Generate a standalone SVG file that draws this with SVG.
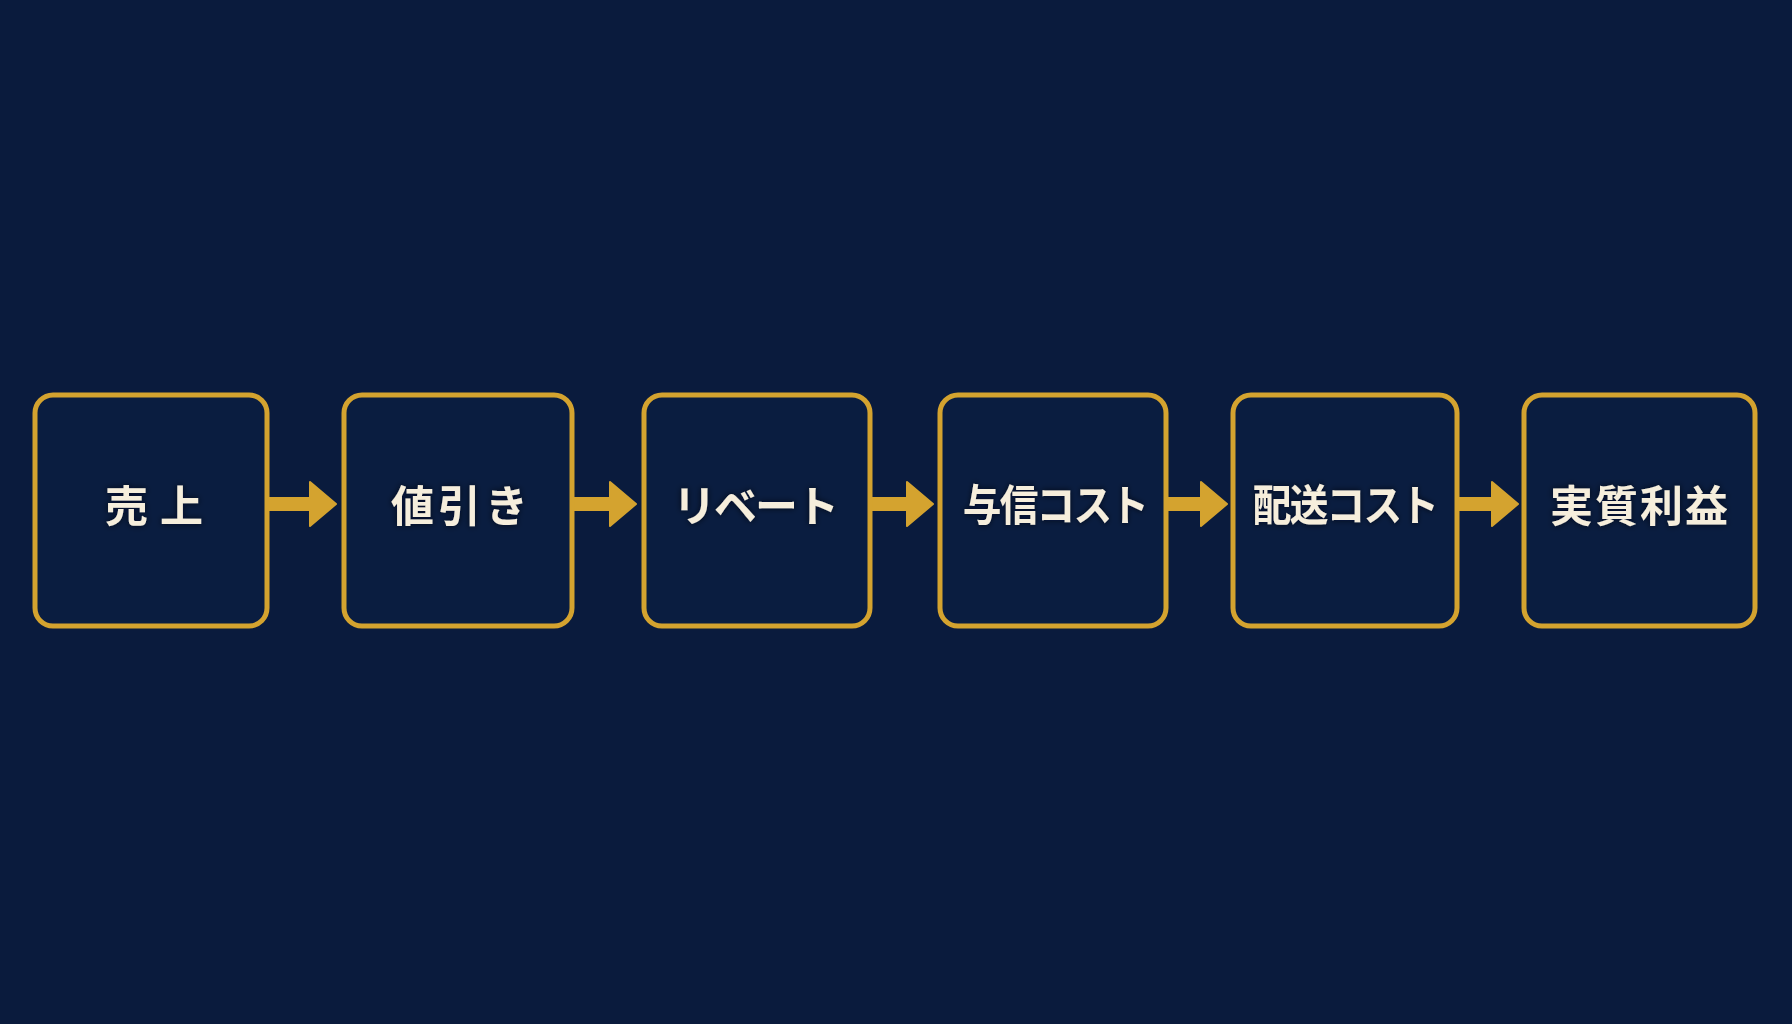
<svg xmlns="http://www.w3.org/2000/svg" width="1792" height="1024" viewBox="0 0 1792 1024">
  <defs>
    <style>
      .box { fill: #0A1D40; stroke: #D4A32F; stroke-width: 5; }
      .lbl { font-family: "Noto Sans CJK JP", "Noto Sans", sans-serif; font-weight: 700; font-size: 43px; fill: #F6EEDC; text-anchor: middle; dominant-baseline: central; }
      .arr { fill: #D4A32F; stroke: #D4A32F; stroke-width: 2; stroke-linejoin: round; }
    </style>
    <filter id="glow" x="-20%" y="-50%" width="140%" height="200%">
      <feGaussianBlur in="SourceAlpha" stdDeviation="3" result="b"/>
      <feFlood flood-color="#000814" flood-opacity="0.7"/>
      <feComposite in2="b" operator="in" result="s"/>
      <feMerge><feMergeNode in="s"/><feMergeNode in="SourceGraphic"/></feMerge>
    </filter>
  </defs>
  <rect x="0" y="0" width="1792" height="1024" fill="#0A1B3D"/>

  <g id="connectors">
    <path class="arr" d="M268 498 H310 V482 L336 504 L310 526 V510 H268 Z"/>
    <path class="arr" d="M573 498 H610 V482 L636 504 L610 526 V510 H573 Z"/>
    <path class="arr" d="M871 498 H907 V482 L933 504 L907 526 V510 H871 Z"/>
    <path class="arr" d="M1167 498 H1201 V482 L1227 504 L1201 526 V510 H1167 Z"/>
    <path class="arr" d="M1458 498 H1492 V482 L1518 504 L1492 526 V510 H1458 Z"/>
  </g>

  <g id="node-1">
    <rect class="box" x="35" y="395" width="232" height="231" rx="18"/>
    <text class="lbl" x="160" y="503" letter-spacing="12" filter="url(#glow)">売上</text>
  </g>
  <g id="node-2">
    <rect class="box" x="344" y="395" width="228" height="231" rx="18"/>
    <text class="lbl" x="461.5" y="503" letter-spacing="4" filter="url(#glow)">値引き</text>
  </g>
  <g id="node-3">
    <rect class="box" x="644" y="395" width="226" height="231" rx="18"/>
    <text class="lbl" x="755" y="503" letter-spacing="-2" filter="url(#glow)">リベート</text>
  </g>
  <g id="node-4">
    <rect class="box" x="940" y="395" width="226" height="231" rx="18"/>
    <g transform="translate(1055,0) scale(0.9,1)">
      <text class="lbl" x="0" y="503" letter-spacing="-2" filter="url(#glow)">与信コスト</text>
    </g>
  </g>
  <g id="node-5">
    <rect class="box" x="1233" y="395" width="224" height="231" rx="18"/>
    <g transform="translate(1345,0) scale(0.9,1)">
      <text class="lbl" x="0" y="503" letter-spacing="-2" filter="url(#glow)">配送コスト</text>
    </g>
  </g>
  <g id="node-6">
    <rect class="box" x="1524" y="395" width="231" height="231" rx="18"/>
    <text class="lbl" x="1640" y="503" letter-spacing="2" filter="url(#glow)">実質利益</text>
  </g>
</svg>
